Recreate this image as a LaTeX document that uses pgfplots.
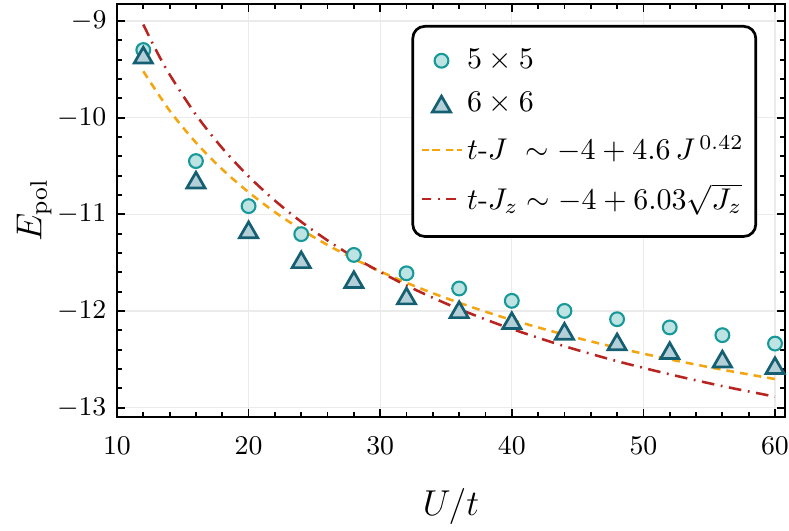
\documentclass[border=0pt]{standalone}
\usepackage{pgfplots}
\pgfplotsset{compat=1.18}
\usetikzlibrary{calc}
\definecolor{cfill}{HTML}{BDE3E3}
\definecolor{cedge}{HTML}{17999A}
\definecolor{tfill}{HTML}{B4CFD7}
\definecolor{tedge}{HTML}{155F72}
\definecolor{corange}{HTML}{F5A50F}
\definecolor{cred}{HTML}{B8241F}
\begin{document}
\begin{tikzpicture}
\begin{axis}[
  name=ax,
  scale only axis, width=222.7pt, height=137.7pt,
  xmin=10, xmax=60.76, ymin=-13.097, ymax=-8.824,
  xtick={10,20,30,40,50,60}, ytick={-13,-12,-11,-10,-9},
  minor x tick num=4, minor y tick num=4,
  tick align=inside, xtick pos=both, ytick pos=both,
  major tick length=2.8pt, minor tick length=1.6pt,
  axis line style={line width=0.8pt},
  every tick/.style={black, line width=0.6pt},
  grid=major, major grid style={black!8, line width=0.4pt},
  tick label style={font=\fontsize{9}{10}\selectfont},
  xticklabel style={yshift=-3pt},
  label style={font=\fontsize{12}{14}\selectfont},
  xlabel={$U/t$}, ylabel={$E_{\mathrm{pol}}$},
  xlabel style={yshift=-4.5pt}, ylabel style={yshift=-5pt},
  legend cell align=left,
  legend style={at={(1,1)}, anchor=north east, xshift=-9.3pt, yshift=-7pt,
    draw=black, line width=0.9pt, rounded corners=4pt,
    font=\fontsize{9.9}{12}\selectfont, row sep=4.5pt, inner xsep=2.5pt, inner ysep=6.5pt,
    nodes={inner xsep=1.5pt, inner ysep=1pt}},
  legend image code/.code={\draw[mark repeat=2,mark phase=2,#1] plot coordinates {(0pt,0pt) (6.65pt,0pt) (13.3pt,0pt)};},
]
\addplot[only marks, mark=*, mark size=2.3pt, draw=cedge, fill=cfill, line width=0.7pt] coordinates {
(12,-9.30) (16,-10.449) (20,-10.915) (24,-11.205) (28,-11.42) (32,-11.61)
(36,-11.767) (40,-11.895) (44,-11.999) (48,-12.085) (52,-12.17) (56,-12.25) (60,-12.337)};
\addlegendentry{$5\times5$}
\addplot[only marks, mark=triangle*, mark size=3.5pt, draw=tedge, fill=tfill, line width=0.9pt, mark options={yshift=-0.87pt}] coordinates {
(12,-9.354) (16,-10.646) (20,-11.16) (24,-11.47) (28,-11.676) (32,-11.845)
(36,-11.987) (40,-12.10) (44,-12.21) (48,-12.32) (52,-12.41) (56,-12.497) (60,-12.566)};
\addlegendentry{$6\times6$}
\addplot[corange, line width=0.85pt, dash pattern=on 2.6pt off 2pt, smooth] coordinates {
(12,-9.520) (14,-9.927) (16,-10.258) (18,-10.535) (20,-10.771) (22,-10.977) (24,-11.157)
(26,-11.317) (28,-11.460) (30,-11.590) (32,-11.708) (34,-11.816) (36,-11.915) (38,-12.007)
(40,-12.092) (44,-12.245) (48,-12.380) (52,-12.500) (56,-12.607) (60,-12.704)};
\addlegendentry{$t$-$J\ \sim -4+4.6\,J^{\,0.42}$}
\addplot[cred, line width=0.85pt, dash pattern=on 4.2pt off 2.2pt on 0.6pt off 2.2pt, smooth] coordinates {
(12,-9.037) (13,-9.310) (14,-9.554) (16,-9.970) (18,-10.315) (20,-10.607) (22,-10.858)
(24,-11.077) (26,-11.270) (28,-11.442) (30,-11.596) (32,-11.736) (34,-11.863) (36,-11.980)
(38,-12.087) (40,-12.186) (44,-12.364) (48,-12.519) (52,-12.655) (56,-12.777) (60,-12.886)};
\addlegendentry{$t$-$J_z \sim -4+6.03\sqrt{J_z}$}
\end{axis}
\pgfresetboundingbox
\path[use as bounding box] ($(ax.south west)+(-39pt,-37.7pt)$) rectangle ($(ax.north east)+(1.33pt,1.33pt)$);
\end{tikzpicture}
\end{document}
